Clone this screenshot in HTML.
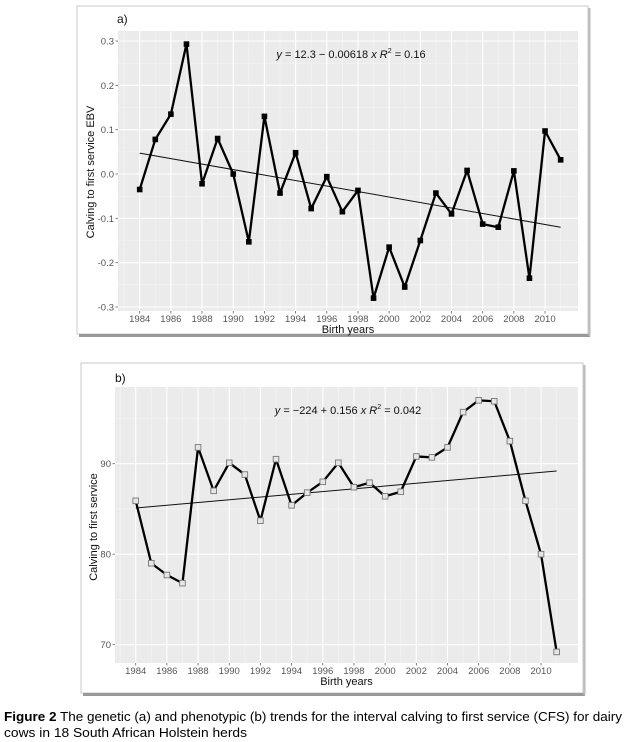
<!DOCTYPE html>
<html><head><meta charset="utf-8"><style>
body{margin:0;width:625px;height:742px;background:#fff;overflow:hidden;font-family:"Liberation Sans",sans-serif}
svg{position:absolute;left:0;top:0}
</style></head><body>
<svg id="svg" width="625" height="742">
<text x="4" y="721" font-size="13" fill="#000" textLength="618" lengthAdjust="spacingAndGlyphs"><tspan font-weight="bold">Figure 2</tspan> The genetic (a) and phenotypic (b) trends for the interval calving to first service (CFS) for dairy</text>
<text x="4" y="737" font-size="13" fill="#000" textLength="243" lengthAdjust="spacingAndGlyphs">cows in 18 South African Holstein herds</text>
</svg>
<script>
const years = [1984,1985,1986,1987,1988,1989,1990,1991,1992,1993,1994,1995,1996,1997,1998,1999,2000,2001,2002,2003,2004,2005,2006,2007,2008,2009,2010,2011];
const ebvValues = [-0.035,0.078,0.135,0.293,-0.022,0.08,0.0,-0.153,0.13,-0.043,0.048,-0.078,-0.006,-0.085,-0.037,-0.28,-0.165,-0.255,-0.15,-0.043,-0.09,0.008,-0.113,-0.12,0.007,-0.235,0.097,0.032];
const ebvTrend = [0.047,-0.12];
const ebvTicks = [-0.3,-0.2,-0.1,0.0,0.1,0.2,0.3];
const ebvTickLabels = ["-0.3","-0.2","-0.1","0.0","0.1","0.2","0.3"];
const cfsValues = [85.9,79.0,77.7,76.8,91.8,87.0,90.1,88.8,83.7,90.5,85.4,86.8,88.0,90.1,87.4,87.9,86.4,86.9,90.8,90.7,91.8,95.7,97.0,96.9,92.5,85.9,80.0,69.2];
const cfsTrend = [85.1,89.2];
const cfsTicks = [70,80,90];
const cfsTickLabels = ["70","80","90"];
const xTicks = [1984,1986,1988,1990,1992,1994,1996,1998,2000,2002,2004,2006,2008,2010];

const NS="http://www.w3.org/2000/svg";
const svg=document.getElementById('svg');
function mk(tag,attrs,parent,text){const e=document.createElementNS(NS,tag);for(const k in attrs)e.setAttribute(k,attrs[k]);if(text!==undefined)e.textContent=text;(parent||svg).appendChild(e);return e;}

function chart(cfg){
  const g=mk('g',{});
  
  
  const fr=mk('rect',{x:cfg.frame[0],y:cfg.frame[1],width:cfg.frame[2],height:cfg.frame[3],fill:'#fff',stroke:'#c8c8c8','stroke-width':1},g);
  
  mk('line',{x1:cfg.frame[0]+2,x2:cfg.frame[0]+cfg.frame[2]+2,y1:cfg.frame[1]+cfg.frame[3]+1.5,y2:cfg.frame[1]+cfg.frame[3]+1.5,stroke:'#999','stroke-width':3},g);
  mk('line',{x1:cfg.frame[0]+cfg.frame[2]+1.5,x2:cfg.frame[0]+cfg.frame[2]+1.5,y1:cfg.frame[1]+2,y2:cfg.frame[1]+cfg.frame[3]+2,stroke:'#bbb','stroke-width':2},g);
  const [L,T,R,B]=cfg.panel;
  const X=v=>cfg.x0+(v-1984)*cfg.dx;
  const Y=v=>cfg.y0+(v-cfg.v0)*cfg.dy;
  const p=mk('rect',{x:L,y:T,width:R-L,height:B-T,fill:'#ebebeb'},g);
  
  for(let yr=1983;yr<=2012;yr+=2){const x=X(yr);if(x>L&&x<R)mk('line',{x1:x,x2:x,y1:T,y2:B,stroke:'#f5f5f5','stroke-width':0.6},g);}
  for(let i=0;i<cfg.yt.length-1;i++){const y=Y((cfg.yt[i]+cfg.yt[i+1])/2);mk('line',{x1:L,x2:R,y1:y,y2:y,stroke:'#f5f5f5','stroke-width':0.6},g);}
  if(cfg.extraMinor)cfg.extraMinor.forEach(v=>{const y=Y(v);if(y>T&&y<B)mk('line',{x1:L,x2:R,y1:y,y2:y,stroke:'#f5f5f5','stroke-width':0.6},g);});
  xTicks.forEach(yr=>{const x=X(yr);mk('line',{x1:x,x2:x,y1:T,y2:B,stroke:'#fff','stroke-width':1.1},g);
    mk('line',{x1:x,x2:x,y1:B,y2:B+2.5,stroke:'#666','stroke-width':0.8},g);
    const t=mk('text',{x:x,y:B+11,'font-size':9.5,fill:'#555','text-anchor':'middle'},g,String(yr));
    });
  cfg.yt.forEach((v,i)=>{const y=Y(v);mk('line',{x1:L,x2:R,y1:y,y2:y,stroke:'#fff','stroke-width':1.1},g);
    mk('line',{x1:L-2.5,x2:L,y1:y,y2:y,stroke:'#666','stroke-width':0.8},g);
    const t=mk('text',{x:L-4,y:y+3.5,'font-size':9.5,fill:'#555','text-anchor':'end'},g,cfg.ytl[i]);
    });
  const tr=mk('line',{x1:X(years[0]),y1:Y(cfg.trend[0]),x2:X(years[years.length-1]),y2:Y(cfg.trend[1]),stroke:'#111','stroke-width':1},g);
  
  const pl=mk('polyline',{points:years.map((yr,i)=>X(yr)+','+Y(cfg.vals[i])).join(' '),fill:'none',stroke:'#000','stroke-width':2.3,'stroke-linejoin':'round'},g);
  
  years.forEach((yr,i)=>{const m=mk('rect',{x:X(yr)-2.8,y:Y(cfg.vals[i])-2.8,width:5.6,height:5.6,fill:cfg.filled?'#000':'#e6e6e6',stroke:cfg.filled?'#000':'#777','stroke-width':cfg.filled?0:0.9},g);
    });
  const lab=mk('text',{x:cfg.label[0],y:cfg.label[1],'font-size':12,fill:'#111'},g,cfg.label[2]);
  
  const eq=mk('text',{x:cfg.eq[0],y:cfg.eq[1],'font-size':11,fill:'#111','text-anchor':'middle'},g);
  
  eq.innerHTML=cfg.eqHtml;
  const xt=mk('text',{x:(L+R)/2,y:B+22,'font-size':11,fill:'#111','text-anchor':'middle'},g,'Birth years');
  
  const yt=mk('text',{x:0,y:0,'font-size':11,fill:'#111','text-anchor':'middle',transform:`translate(${cfg.ylab[0]},${cfg.ylab[1]}) rotate(-90)`},g,cfg.ylab[2]);
  
}
chart({name:'chart-a-genetic-trend',frame:[77,6,511,328],panel:[118,31,578,311],x0:139.7,dx:15.59,v0:0,y0:174,dy:-443.3,
  yt:ebvTicks,ytl:ebvTickLabels,vals:ebvValues,trend:ebvTrend,filled:true,label:[117,23,'a)'],eq:[351,58],
  eqHtml:'<tspan font-style="italic">y</tspan> = 12.3 − 0.00618 <tspan font-style="italic">x</tspan>   <tspan font-style="italic">R</tspan><tspan font-size="7" dy="-5">2</tspan><tspan dy="5"> = 0.16</tspan>',
  ylab:[94,172,'Calving to first service EBV']});
chart({name:'chart-b-phenotypic-trend',frame:[81,363,502,330],panel:[115,387,578,663],x0:135.7,dx:15.59,v0:70,y0:644.7,dy:-9.05,
  yt:cfsTicks,ytl:cfsTickLabels,vals:cfsValues,trend:cfsTrend,filled:false,extraMinor:[95],label:[115,382,'b)'],eq:[348,414],
  eqHtml:'<tspan font-style="italic">y</tspan> = −224 + 0.156 <tspan font-style="italic">x</tspan>   <tspan font-style="italic">R</tspan><tspan font-size="7" dy="-5">2</tspan><tspan dy="5"> = 0.042</tspan>',
  ylab:[97,527,'Calving to first service']});
</script>
</body></html>
